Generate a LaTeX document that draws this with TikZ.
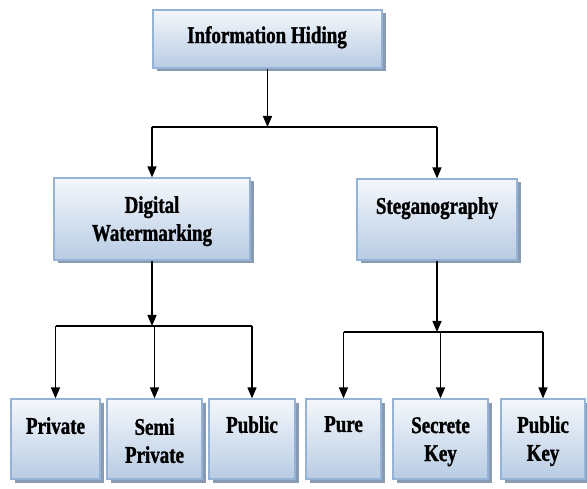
\documentclass[tikz,border=0pt]{standalone}
\usepackage{fontspec}
\setmainfont{Liberation Serif}[FakeStretch=0.79, BoldFeatures={FakeBold=1.2}]
\usetikzlibrary{shadows,arrows.meta}
\definecolor{boxborder}{HTML}{95B3D7}
\definecolor{boxtop}{HTML}{F4F7FB}
\definecolor{boxbot}{HTML}{B8CCE4}
\definecolor{shadowc}{HTML}{8A9AB0}
\tikzset{
  box/.style={draw=boxborder, line width=1.2pt, top color=boxtop, bottom color=boxbot,
    drop shadow={shadow xshift=3.5pt, shadow yshift=-3.5pt, fill=shadowc, opacity=1},
    inner sep=0pt},
  lbl/.style={anchor=north, inner sep=0pt, align=center, font=\bfseries\fontsize{24}{28}\selectfont},
  conn/.style={line width=1.4pt, black},
  arr/.style={conn, -{Triangle[length=11pt,width=9pt]}}
}
\begin{document}
\begin{tikzpicture}[x=1pt,y=-1pt]
\useasboundingbox (0,0) rectangle (587,489);
% boxes
\node[box, minimum width=229pt, minimum height=58pt] (ih) at (267.5,39) {};
\node[box, minimum width=196pt, minimum height=82pt] (dw) at (152,219) {};
\node[box, minimum width=160pt, minimum height=81pt] (st) at (437,219.5) {};
\node[box, minimum width=89pt, minimum height=80pt] (pv) at (55.5,439) {};
\node[box, minimum width=95pt, minimum height=80pt] (sp) at (154.5,439) {};
\node[box, minimum width=86pt, minimum height=80pt] (pb) at (252,439) {};
\node[box, minimum width=75pt, minimum height=80pt] (pu) at (343.5,439) {};
\node[box, minimum width=95pt, minimum height=80pt] (sk) at (440.5,439) {};
\node[box, minimum width=84pt, minimum height=80pt] (pk) at (543,439) {};
% labels
\node[lbl] (ihT) at (267,26) {Information Hiding};
\node[lbl] (dwT) at (152,196) {Digital\\Watermarking};
\node[lbl] (stT) at (437,197) {Steganography};
\node[lbl] (pvT) at (55.5,417) {Private};
\node[lbl] (spT) at (154.5,418) {Semi\\Private};
\node[lbl] (pbT) at (252,416) {Public};
\node[lbl] (puT) at (343.5,416) {Pure};
\node[lbl] (skT) at (440.5,417) {Secrete\\Key};
\node[lbl] (pkT) at (543,416) {Public\\Key};
% level 1
\coordinate (j1) at (ih.south |- 0,127);
\draw[arr] (ih.south) -- (j1);
\draw[conn] (dw.north |- j1) -- (st.north |- j1);
\draw[arr] (dw.north |- j1) -- (dw.north);
\draw[arr] (st.north |- j1) -- (st.north);
% level 2 left
\coordinate (j2) at (dw.south |- 0,326);
\draw[arr] (dw.south) -- (j2);
\draw[conn] (pv.north |- j2) -- (pb.north |- j2);
\draw[arr] (pv.north |- j2) -- (pv.north);
\draw[arr] (sp.north |- j2) -- (sp.north);
\draw[arr] (pb.north |- j2) -- (pb.north);
% level 2 right
\coordinate (j3) at (st.south |- 0,332);
\draw[arr] (st.south) -- (j3);
\draw[conn] (pu.north |- j3) -- (pk.north |- j3);
\draw[arr] (pu.north |- j3) -- (pu.north);
\draw[arr] (sk.north |- j3) -- (sk.north);
\draw[arr] (pk.north |- j3) -- (pk.north);
\end{tikzpicture}
\end{document}
